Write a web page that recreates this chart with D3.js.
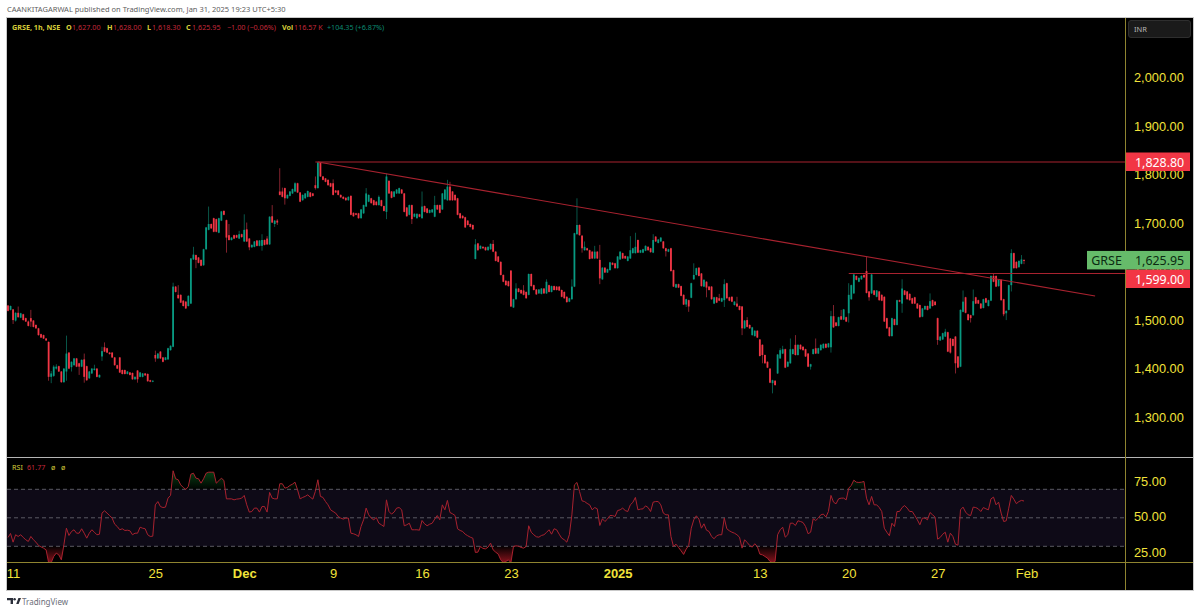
<!DOCTYPE html>
<html lang="en">
<head>
  <meta charset="utf-8">
  <script src="https://d3js.org/d3.v7.min.js"></script>
  <style>
    html, body { margin: 0; background: #fff; }
    svg { display: block; font-family: "Noto Sans", sans-serif; }
    .axis path, .axis line { display: none; }
    .axis text { fill: #f2e33a; }
  </style>
</head>
<body>
<script>

// one value per hourly bar
var opens = [
  1533,1524,1525,1502,1518,1508,1515,1507,1500,1507,1502,1493,1486,1474,1472,1465,1458,1386,1388,1403,
  1408,1397,1375,1397,1436,1406,1410,1424,1414,1407,1422,1408,1383,1393,1400,1403,1385,1428,1447,1445,
  1436,1436,1426,1410,1426,1400,1400,1392,1395,1394,1381,1399,1386,1386,1393,1392,1379,1376,1431,1424,
  1438,1426,1421,1422,1441,1448,1572,1555,1555,1543,1541,1532,1537,1628,1637,1632,1627,1616,1649,1689,
  1701,1713,1711,1683,1708,1728,1709,1678,1668,1678,1678,1671,1680,1665,1690,1671,1653,1654,1667,1656,
  1656,1668,1671,1659,1717,1701,1708,1768,1768,1775,1754,1759,1764,1768,1785,1766,1750,1754,1757,1766,
  1764,1781,1775,1828,1799,1795,1792,1785,1785,1770,1770,1761,1757,1755,1750,1759,1724,1723,1723,1713,
  1723,1737,1747,1754,1750,1747,1740,1750,1738,1726,1790,1768,1757,1764,1764,1772,1764,1735,1720,1740,
  1716,1713,1721,1713,1738,1733,1724,1725,1716,1740,1740,1731,1752,1750,1778,1768,1761,1754,1723,1718,
  1715,1708,1701,1699,1629,1661,1650,1654,1653,1647,1649,1660,1644,1634,1623,1596,1584,1583,1605,1529,
  1546,1568,1565,1564,1561,1555,1598,1575,1566,1558,1557,1568,1558,1575,1561,1573,1572,1572,1565,1561,
  1551,1541,1546,1572,1680,1699,1677,1647,1651,1647,1644,1630,1644,1627,1587,1611,1601,1606,1621,1620,
  1610,1628,1641,1635,1625,1630,1641,1641,1668,1642,1642,1646,1654,1651,1642,1675,1662,1665,1665,1651,
  1644,1651,1606,1570,1577,1573,1555,1535,1544,1549,1587,1596,1611,1599,1572,1582,1572,1572,1537,1550,
  1548,1541,1544,1579,1550,1551,1534,1537,1532,1531,1486,1503,1493,1472,1470,1481,1463,1452,1431,1417,
  1403,1373,1378,1393,1424,1434,1443,1407,1414,1433,1452,1431,1452,1448,1443,1434,1407,1433,1445,1434,
  1441,1445,1454,1447,1447,1511,1498,1491,1511,1504,1509,1517,1546,1558,1594,1582,1587,1596,1604,1562,
  1558,1564,1551,1562,1555,1551,1507,1488,1470,1505,1493,1544,1537,1564,1562,1557,1548,1550,1537,1534,
  1510,1525,1532,1527,1544,1541,1507,1461,1463,1469,1478,1465,1464,1469,1428,1407,1520,1550,1515,1513,
  1513,1550,1544,1537,1528,1548,1532,1543,1594,1594,1573,1586,1546,1517,1524,1575,1641,1623,1612,1619,
  1627
];
var highs = [
  1534,1533,1526,1519,1531,1518,1516,1508,1502,1524,1503,1494,1487,1475,1473,1466,1459,1398,1410,1412,
  1409,1398,1404,1471,1437,1418,1425,1425,1415,1422,1434,1409,1398,1404,1411,1404,1391,1448,1457,1446,
  1437,1437,1427,1411,1427,1401,1401,1398,1396,1395,1387,1400,1396,1394,1394,1393,1380,1379,1440,1435,
  1439,1427,1427,1446,1451,1580,1573,1575,1556,1544,1542,1554,1631,1654,1638,1633,1628,1650,1695,1737,
  1702,1714,1712,1714,1728,1729,1710,1701,1674,1679,1679,1687,1681,1721,1704,1672,1659,1666,1668,1668,
  1680,1669,1676,1717,1740,1709,1711,1816,1776,1776,1762,1769,1774,1787,1786,1767,1762,1765,1770,1767,
  1765,1799,1829,1829,1800,1796,1793,1786,1793,1771,1771,1762,1758,1756,1758,1760,1725,1724,1724,1732,
  1741,1775,1762,1755,1751,1748,1760,1751,1739,1805,1791,1769,1769,1773,1776,1773,1765,1736,1741,1741,
  1723,1723,1722,1768,1739,1734,1731,1732,1759,1741,1741,1765,1773,1792,1788,1769,1762,1755,1724,1719,
  1716,1709,1702,1700,1670,1662,1657,1655,1654,1655,1661,1668,1645,1635,1624,1597,1585,1584,1606,1547,
  1579,1569,1566,1575,1562,1599,1599,1576,1567,1567,1569,1569,1587,1576,1574,1574,1573,1573,1566,1562,
  1552,1549,1587,1683,1754,1700,1678,1665,1652,1648,1645,1656,1645,1658,1612,1612,1609,1623,1622,1621,
  1635,1645,1642,1636,1635,1676,1652,1683,1669,1648,1650,1657,1655,1652,1680,1676,1670,1674,1666,1652,
  1650,1652,1607,1578,1578,1574,1556,1547,1545,1580,1620,1611,1612,1600,1587,1583,1573,1573,1551,1551,
  1557,1549,1587,1580,1551,1552,1542,1551,1533,1532,1503,1509,1494,1489,1482,1482,1464,1453,1432,1418,
  1404,1380,1379,1433,1445,1450,1444,1418,1465,1444,1472,1453,1453,1449,1444,1435,1413,1444,1465,1446,
  1453,1455,1455,1456,1522,1534,1499,1510,1524,1526,1510,1579,1576,1598,1595,1591,1595,1597,1634,1563,
  1598,1565,1565,1563,1556,1552,1508,1489,1508,1506,1545,1545,1587,1565,1563,1558,1549,1551,1538,1535,
  1528,1533,1533,1558,1545,1542,1508,1470,1477,1485,1479,1466,1465,1470,1429,1525,1564,1551,1516,1514,
  1566,1551,1545,1538,1547,1549,1545,1595,1600,1595,1587,1587,1547,1523,1576,1649,1642,1624,1626,1637,
  1628
];
var lows = [
  1521,1523,1495,1500,1508,1507,1502,1499,1490,1489,1488,1485,1471,1466,1464,1460,1378,1373,1386,1401,
  1396,1374,1374,1378,1402,1397,1409,1406,1390,1406,1374,1378,1382,1392,1399,1385,1384,1419,1437,1435,
  1432,1425,1409,1402,1394,1391,1391,1391,1389,1380,1380,1374,1385,1385,1388,1376,1375,1375,1417,1423,
  1423,1416,1420,1421,1440,1447,1560,1547,1538,1531,1526,1531,1536,1627,1610,1620,1614,1615,1648,1688,
  1691,1684,1684,1682,1707,1719,1642,1667,1667,1670,1672,1670,1673,1664,1664,1647,1652,1653,1655,1655,
  1646,1657,1658,1658,1703,1695,1699,1760,1756,1741,1753,1758,1763,1767,1765,1746,1749,1753,1756,1756,
  1758,1772,1774,1798,1791,1787,1780,1777,1760,1765,1760,1755,1752,1749,1749,1719,1716,1719,1712,1712,
  1722,1736,1746,1743,1739,1739,1739,1737,1727,1711,1763,1754,1756,1763,1763,1763,1725,1716,1719,1701,
  1715,1712,1715,1712,1725,1723,1723,1724,1715,1730,1723,1730,1751,1749,1749,1749,1749,1719,1712,1712,
  1693,1698,1694,1689,1628,1646,1649,1650,1646,1646,1648,1643,1624,1622,1595,1581,1574,1572,1530,1528,
  1545,1560,1557,1554,1547,1554,1572,1564,1555,1557,1556,1557,1557,1560,1560,1564,1564,1563,1550,1547,
  1539,1540,1545,1571,1679,1677,1642,1646,1646,1628,1629,1629,1629,1577,1586,1600,1600,1605,1616,1609,
  1609,1627,1629,1629,1624,1629,1640,1640,1641,1641,1641,1645,1646,1642,1641,1664,1661,1664,1650,1634,
  1643,1603,1571,1569,1569,1552,1534,1530,1520,1548,1586,1595,1593,1572,1571,1550,1564,1545,1536,1538,
  1542,1540,1530,1547,1542,1540,1533,1530,1523,1472,1485,1488,1485,1471,1469,1466,1428,1414,1413,1404,
  1373,1352,1368,1392,1423,1433,1404,1406,1413,1432,1430,1430,1442,1440,1427,1406,1401,1432,1433,1433,
  1440,1444,1445,1446,1436,1487,1490,1490,1503,1503,1499,1498,1545,1557,1585,1581,1586,1590,1558,1543,
  1557,1554,1550,1543,1542,1499,1485,1469,1469,1492,1492,1540,1518,1554,1545,1543,1536,1536,1526,1508,
  1509,1524,1523,1526,1531,1533,1452,1460,1462,1468,1437,1434,1449,1393,1404,1406,1519,1517,1502,1498,
  1512,1536,1536,1526,1527,1538,1531,1542,1581,1571,1572,1543,1511,1503,1523,1562,1609,1609,1611,1618,
  1618.3
];
var closes = [
  1522,1532,1503,1518,1509,1517,1503,1500,1491,1500,1489,1486,1472,1467,1465,1461,1386,1393,1407,1407,
  1397,1375,1403,1434,1403,1417,1424,1407,1407,1421,1386,1379,1397,1403,1403,1386,1390,1439,1438,1436,
  1433,1426,1410,1403,1395,1392,1392,1397,1390,1381,1386,1381,1395,1393,1389,1377,1376,1378,1424,1434,
  1424,1417,1426,1445,1450,1572,1561,1548,1539,1532,1527,1553,1630,1638,1627,1621,1615,1649,1694,1701,
  1692,1685,1685,1713,1727,1720,1673,1668,1673,1671,1673,1680,1674,1689,1665,1653,1658,1665,1656,1667,
  1668,1658,1659,1716,1704,1708,1704,1761,1757,1754,1761,1768,1773,1785,1766,1747,1761,1764,1769,1757,
  1759,1775,1828,1799,1792,1788,1781,1778,1761,1766,1761,1756,1753,1750,1757,1720,1717,1720,1713,1731,
  1740,1764,1761,1744,1740,1740,1757,1738,1728,1799,1764,1755,1768,1772,1775,1764,1726,1717,1740,1711,
  1722,1722,1716,1737,1726,1724,1730,1731,1740,1731,1724,1764,1772,1778,1750,1750,1750,1720,1713,1713,
  1694,1699,1695,1690,1659,1647,1656,1651,1647,1654,1660,1644,1625,1623,1596,1582,1575,1573,1531,1546,
  1568,1561,1558,1555,1548,1598,1573,1565,1556,1566,1568,1558,1582,1561,1573,1565,1565,1564,1551,1548,
  1540,1548,1572,1682,1699,1678,1651,1654,1647,1629,1630,1644,1630,1589,1611,1601,1608,1622,1617,1610,
  1634,1644,1630,1630,1634,1647,1651,1654,1642,1647,1649,1656,1647,1643,1668,1665,1669,1673,1651,1645,
  1649,1604,1572,1577,1570,1553,1535,1546,1531,1579,1596,1610,1594,1573,1586,1570,1565,1546,1550,1539,
  1543,1548,1577,1548,1543,1541,1541,1531,1524,1486,1502,1489,1486,1488,1481,1467,1429,1431,1414,1405,
  1374,1379,1369,1432,1441,1443,1405,1417,1443,1443,1431,1452,1443,1441,1428,1407,1412,1443,1434,1445,
  1452,1454,1446,1455,1511,1488,1491,1509,1504,1525,1500,1555,1575,1597,1586,1590,1594,1591,1559,1550,
  1597,1555,1564,1544,1543,1500,1486,1470,1507,1493,1544,1541,1568,1555,1546,1544,1537,1537,1527,1509,
  1527,1532,1524,1542,1532,1534,1462,1469,1476,1479,1438,1436,1450,1414,1405,1524,1541,1518,1503,1507,
  1542,1537,1537,1527,1546,1539,1544,1594,1582,1572,1586,1544,1515,1522,1575,1641,1610,1610,1625,1628,
  1625.95
];
var rsi = [
  36.2,39.0,32.9,38.1,36.9,38.1,36.2,34.6,33.4,36.9,34.6,32.9,30.6,29.6,28.7,27.5,18.5,18.5,22.9,25.2,
  24.0,20.5,31.0,42.7,37.6,40.4,41.6,39.2,39.2,42.3,39.2,35.7,39.2,41.6,39.9,38.1,38.5,53.3,54.9,53.3,
  51.6,49.8,45.5,43.9,41.6,42.3,41.1,41.3,40.9,38.1,39.2,39.2,43.4,42.7,42.3,38.1,36.9,37.1,59.1,61.4,
  57.9,57.2,57.5,63.8,65.7,83.0,77.4,76.7,73.1,71.3,69.9,72.0,80.6,81.3,77.8,77.4,74.3,77.4,81.3,82.0,
  82.0,82.0,74.3,76.0,77.8,76.2,63.3,63.3,63.3,62.6,63.1,63.3,63.8,65.7,59.1,54.0,54.4,56.8,56.8,54.0,
  57.9,57.9,54.0,67.8,63.8,63.3,63.3,73.9,73.9,70.8,71.3,72.7,73.6,75.0,69.6,63.3,64.3,65.0,66.1,64.5,
  63.1,68.5,76.7,65.0,64.3,61.4,59.1,55.6,54.4,53.3,50.9,49.8,49.1,49.8,49.8,39.2,38.8,38.1,36.9,43.9,
  48.6,56.8,52.1,49.8,48.6,50.2,46.2,45.1,43.9,62.6,54.4,52.6,54.0,56.8,57.2,55.6,44.4,45.1,46.2,41.6,
  41.6,41.6,41.3,48.1,45.8,44.4,45.5,46.2,49.1,51.6,48.6,59.1,55.6,62.2,53.7,52.8,51.6,42.3,41.1,40.4,
  38.5,37.4,36.4,35.7,25.7,25.9,29.9,28.5,28.2,29.4,32.2,27.5,25.9,24.5,20.5,18.5,19.4,20.5,18.5,29.9,
  30.3,30.1,29.2,28.7,29.9,44.4,39.9,38.1,36.7,36.4,37.6,38.1,39.7,41.6,38.5,42.3,41.6,38.5,35.7,34.6,
  32.9,38.1,52.1,73.1,74.8,68.5,61.9,61.4,60.1,59.1,55.6,57.2,56.3,44.6,49.3,47.4,49.1,51.6,51.6,50.9,
  55.1,55.6,56.8,55.1,54.4,59.1,60.8,64.3,55.6,56.1,56.3,58.4,57.2,54.4,61.0,61.4,61.4,59.1,53.3,52.1,
  52.1,36.9,29.9,31.5,29.2,26.8,24.3,28.0,30.6,42.7,48.6,51.4,49.1,42.7,45.8,41.3,40.4,36.9,35.3,37.4,
  38.1,38.1,49.8,42.3,40.9,39.9,39.2,38.1,36.4,28.7,34.6,32.7,30.6,29.4,31.8,29.9,24.5,24.0,22.9,21.7,
  19.4,18.5,19.4,38.1,41.6,43.4,36.4,38.1,46.2,46.2,44.6,47.9,47.4,46.7,43.9,38.8,39.9,49.3,48.1,49.8,
  52.1,52.6,50.5,54.4,65.7,61.0,59.8,63.3,63.8,63.8,62.6,70.8,72.7,76.4,75.0,74.8,75.0,75.5,63.8,59.1,
  65.0,59.1,59.1,57.2,54.4,42.7,39.9,37.4,46.2,43.9,54.4,54.4,57.2,58.6,56.8,54.4,54.4,51.6,48.6,45.1,
  49.8,49.8,48.6,53.7,52.1,50.5,35.0,36.2,38.5,39.9,32.9,39.2,36.9,31.5,30.8,55.6,57.5,54.0,52.1,51.6,
  57.5,57.2,56.3,54.4,57.2,56.3,55.6,63.3,64.5,59.1,61.0,53.3,47.4,47.9,56.8,65.7,63.1,59.9,61.4,62.2,
  61.77
];

var priceTicks = [1300, 1400, 1500, 1600, 1700, 1800, 1900, 2000];
var rsiTicks = [25, 50, 75];
var rsiLevels = [30, 50, 70];
var timeBars = [2, 58, 93, 128, 163, 198, 240, 296, 331, 366, 401];
var timeLabels = ["11", "25", "Dec", "9", "16", "23", "2025", "13", "20", "27", "Feb"];
var resistance = 1828.80, support = 1599.00, lastClose = 1625.95;
var trendBars = [122, 428], trendPrices = [1828.8, 1552.5];
var supportStart = 331, resistanceStart = 121;

var width = 1200, height = 614;
var left = 7, right = 1193, axisX = 1125.5;
var paneTop = 18, paneBottom = 457.5, rsiBottom = 562.5, chartBottom = 590;

var red = "#f23645", green = "#089981", lineRed = "#a8222f";
var yellow = "#f2e33a", olive = "#8f8430";

var x = d3.scaleLinear().domain([0, 400]).range([8, 1024]);
var y = d3.scaleLinear().domain([1599, 1828.8]).range([273.5, 162]);
var yRsi = d3.scaleLinear().domain([30, 70]).range([546.3, 489.3]);

var svg = d3.select("body").append("svg")
    .attr("width", width)
    .attr("height", height);

var defs = svg.append("defs");
defs.append("clipPath").attr("id", "price-clip").append("rect")
    .attr("x", left).attr("y", paneTop)
    .attr("width", axisX - left).attr("height", paneBottom - paneTop);
defs.append("clipPath").attr("id", "rsi-clip").append("rect")
    .attr("x", left).attr("y", paneBottom)
    .attr("width", axisX - left).attr("height", rsiBottom - paneBottom);
defs.append("clipPath").attr("id", "over-clip").append("rect")
    .attr("x", left).attr("y", paneBottom)
    .attr("width", axisX - left).attr("height", yRsi(70) - paneBottom);
defs.append("clipPath").attr("id", "under-clip").append("rect")
    .attr("x", left).attr("y", yRsi(30))
    .attr("width", axisX - left).attr("height", rsiBottom - yRsi(30));

var overGrad = defs.append("linearGradient").attr("id", "over-grad")
    .attr("gradientUnits", "userSpaceOnUse")
    .attr("x1", 0).attr("x2", 0).attr("y1", yRsi(70)).attr("y2", yRsi(85));
overGrad.append("stop").attr("offset", 0).attr("stop-color", "#0d8a2a").attr("stop-opacity", 0.02);
overGrad.append("stop").attr("offset", 1).attr("stop-color", "#0d8a2a").attr("stop-opacity", 0.55);
var underGrad = defs.append("linearGradient").attr("id", "under-grad")
    .attr("gradientUnits", "userSpaceOnUse")
    .attr("x1", 0).attr("x2", 0).attr("y1", yRsi(30)).attr("y2", rsiBottom);
underGrad.append("stop").attr("offset", 0).attr("stop-color", "#e01e2e").attr("stop-opacity", 0.02);
underGrad.append("stop").attr("offset", 1).attr("stop-color", "#e01e2e").attr("stop-opacity", 0.6);

// frame
svg.append("rect")
    .attr("x", left - 0.5).attr("y", paneTop - 0.5)
    .attr("width", right - left + 1).attr("height", chartBottom - paneTop + 1)
    .attr("fill", "#000")
    .attr("stroke", "#c9c9c9");

svg.append("text")
    .attr("x", 7).attr("y", 12)
    .attr("font-size", 7.5)
    .attr("fill", "#5d5d5d")
    .text("CAANKITAGARWAL published on TradingView.com, Jan 31, 2025 19:23 UTC+5:30");

// candles
var bars = d3.range(opens.length);
var candles = svg.append("g").attr("clip-path", "url(#price-clip)");

candles.selectAll("rect.wick")
    .data(bars)
  .enter().append("rect")
    .attr("class", "wick")
    .attr("x", function(i) { return x(i) - 0.4; })
    .attr("y", function(i) { return y(highs[i]); })
    .attr("width", 0.8)
    .attr("height", function(i) { return y(lows[i]) - y(highs[i]); })
    .attr("fill", function(i) { return closes[i] >= opens[i] ? "#0b6b5a" : "#a12a38"; });

candles.selectAll("rect.body")
    .data(bars)
  .enter().append("rect")
    .attr("class", "body")
    .attr("x", function(i) { return x(i) - 0.9; })
    .attr("y", function(i) { return y(Math.max(opens[i], closes[i])); })
    .attr("width", 1.8)
    .attr("height", function(i) { return Math.max(1, Math.abs(y(opens[i]) - y(closes[i]))); })
    .attr("fill", function(i) { return closes[i] >= opens[i] ? green : red; });

// drawn levels
var drawn = svg.append("g")
    .attr("clip-path", "url(#price-clip)")
    .attr("stroke", lineRed)
    .attr("stroke-width", 1.1);
drawn.append("line")
    .attr("x1", x(resistanceStart)).attr("x2", axisX)
    .attr("y1", y(resistance)).attr("y2", y(resistance));
drawn.append("line")
    .attr("x1", x(supportStart)).attr("x2", axisX)
    .attr("y1", y(support)).attr("y2", y(support));
drawn.append("line")
    .attr("x1", x(trendBars[0])).attr("x2", x(trendBars[1]))
    .attr("y1", y(trendPrices[0])).attr("y2", y(trendPrices[1]));

// legend row
var legendParts = [
  ["GRSE, 1h, NSE", 12, "#d8ce3a", 700],
  ["O", 66, "#d8ce3a", 700], ["1,627.00", 72, "#c4283a", 400],
  ["H", 107, "#d8ce3a", 700], ["1,628.00", 113, "#c4283a", 400],
  ["L", 147, "#d8ce3a", 700], ["1,618.30", 152, "#c4283a", 400],
  ["C", 186, "#d8ce3a", 700], ["1,625.95", 192, "#c4283a", 400],
  ["\u22121.00 (\u22120.06%)", 227, "#c4283a", 400],
  ["Vol", 282, "#d8ce3a", 700], ["116.57 K", 294, "#c4283a", 400],
  ["+104.35 (+6.87%)", 327, "#0b8a72", 400]
];
svg.append("g").selectAll("text")
    .data(legendParts)
  .enter().append("text")
    .attr("x", function(d) { return d[1]; })
    .attr("y", 30)
    .attr("font-size", 7.2)
    .attr("fill", function(d) { return d[2]; })
    .attr("font-weight", function(d) { return d[3]; })
    .text(function(d) { return d[0]; });

// rsi pane
svg.append("rect")
    .attr("x", left).attr("width", axisX - left)
    .attr("y", yRsi(70)).attr("height", yRsi(30) - yRsi(70))
    .attr("fill", "#0e0a17");

svg.append("g").selectAll("line")
    .data(rsiLevels)
  .enter().append("line")
    .attr("x1", left).attr("x2", axisX)
    .attr("y1", yRsi).attr("y2", yRsi)
    .attr("stroke", "#6f6f76")
    .attr("stroke-dasharray", "4 3")
    .attr("stroke-width", 0.8);

var overArea = d3.area()
    .x(function(d, i) { return x(i); })
    .y0(yRsi(70))
    .y1(function(d) { return yRsi(d); });
var underArea = d3.area()
    .x(function(d, i) { return x(i); })
    .y0(yRsi(30))
    .y1(function(d) { return yRsi(d); });

svg.append("g").attr("clip-path", "url(#over-clip)").append("path")
    .attr("d", overArea(rsi)).attr("fill", "url(#over-grad)");
svg.append("g").attr("clip-path", "url(#under-clip)").append("path")
    .attr("d", underArea(rsi)).attr("fill", "url(#under-grad)");

svg.append("g").attr("clip-path", "url(#rsi-clip)").append("path")
    .attr("d", d3.line().x(function(d, i) { return x(i); }).y(function(d) { return yRsi(d); })(rsi))
    .attr("fill", "none")
    .attr("stroke", lineRed)
    .attr("stroke-width", 1);

var rsiLegend = [["RSI", 12, "#d8ce3a"], ["61.77", 27, "#c4283a"], ["\u00f8", 51, "#d8ce3a"], ["\u00f8", 61, "#d8ce3a"]];
svg.append("g").selectAll("text")
    .data(rsiLegend)
  .enter().append("text")
    .attr("x", function(d) { return d[1]; })
    .attr("y", 470)
    .attr("font-size", 7.2)
    .attr("fill", function(d) { return d[2]; })
    .text(function(d) { return d[0]; });

// separators
svg.append("line")
    .attr("x1", left).attr("x2", right)
    .attr("y1", paneBottom).attr("y2", paneBottom)
    .attr("stroke", "#b5b5b5");
svg.append("line")
    .attr("x1", left).attr("x2", right)
    .attr("y1", rsiBottom).attr("y2", rsiBottom)
    .attr("stroke", olive);
svg.append("line")
    .attr("x1", axisX).attr("x2", axisX)
    .attr("y1", paneTop).attr("y2", chartBottom)
    .attr("stroke", olive);

// axes
var priceAxis = svg.append("g")
    .attr("class", "axis")
    .attr("transform", "translate(" + (axisX - 1) + ",0)")
    .call(d3.axisRight(y).tickValues(priceTicks).tickFormat(d3.format(",.2f")).tickSize(0).tickPadding(9.5));
priceAxis.selectAll("text").attr("font-size", 12.8).attr("font-family", "inherit").attr("dy", "0.22em");

var rsiAxis = svg.append("g")
    .attr("class", "axis")
    .attr("transform", "translate(" + (axisX - 1) + ",0)")
    .call(d3.axisRight(yRsi).tickValues(rsiTicks).tickFormat(d3.format(".2f")).tickSize(0).tickPadding(9.5));
rsiAxis.selectAll("text").attr("font-size", 12.8).attr("font-family", "inherit").attr("dy", "0.22em");

var timeAxis = svg.append("g")
    .attr("class", "axis")
    .attr("transform", "translate(0," + rsiBottom + ")")
    .call(d3.axisBottom(x).tickValues(timeBars).tickFormat(function(d, i) { return timeLabels[i]; }).tickSize(0).tickPadding(6));
timeAxis.selectAll("text")
    .attr("font-size", 13)
    .attr("font-family", "inherit")
    .attr("font-weight", function(d, i) { return timeLabels[i] === "Dec" || timeLabels[i] === "2025" ? 700 : 500; });

// price tags, the support tag is pushed below the last price tag
var tags = [
  { value: resistance, shift: 0, fill: "#f23645", text: "#fff" },
  { value: support, shift: 5.5, fill: "#f23645", text: "#fff" },
  { value: lastClose, shift: 0, fill: "#66bb6a", text: "#0b2a12" }
];
svg.append("rect")
    .attr("x", 1087).attr("y", y(lastClose) - 9.5)
    .attr("width", 40).attr("height", 18.5)
    .attr("fill", "#66bb6a");
svg.append("text")
    .attr("x", 1106.5).attr("y", y(lastClose) + 4.5)
    .attr("text-anchor", "middle")
    .attr("font-size", 12.5)
    .attr("fill", "#0b2a12")
    .text("GRSE");

var tag = svg.append("g").selectAll("g")
    .data(tags)
  .enter().append("g");
tag.append("rect")
    .attr("x", 1126).attr("width", 64)
    .attr("y", function(d) { return y(d.value) + d.shift - 9.5; })
    .attr("height", 18.5)
    .attr("fill", function(d) { return d.fill; });
tag.append("text")
    .attr("x", 1135)
    .attr("y", function(d) { return y(d.value) + d.shift + 4.5; })
    .attr("font-size", 12.4)
    .attr("fill", function(d) { return d.text; })
    .text(function(d) { return d3.format(",.2f")(d.value); });

// currency box
svg.append("rect")
    .attr("x", 1128.5).attr("y", 20.5)
    .attr("width", 62).attr("height", 17)
    .attr("rx", 2.5)
    .attr("fill", "#1a1a1a")
    .attr("stroke", "#2e2e2e");
svg.append("text")
    .attr("x", 1134).attr("y", 32)
    .attr("font-size", 7.5)
    .attr("fill", "#b8b8b8")
    .text("INR");

// TradingView mark
var logo = svg.append("g").attr("fill", "#2a2e39").attr("transform", "translate(7,598)");
logo.append("path").attr("d", "M0 0H6V6H3.6V2.2H0Z");
logo.append("circle").attr("cx", 7.6).attr("cy", 1.2).attr("r", 1.2);
logo.append("path").attr("d", "M9.2 6L11.4 0H14L11.6 6Z");
svg.append("text")
    .attr("x", 22).attr("y", 605)
    .attr("font-size", 8)
    .attr("fill", "#6a6d78")
    .text("TradingView");

</script>
</body>
</html>
